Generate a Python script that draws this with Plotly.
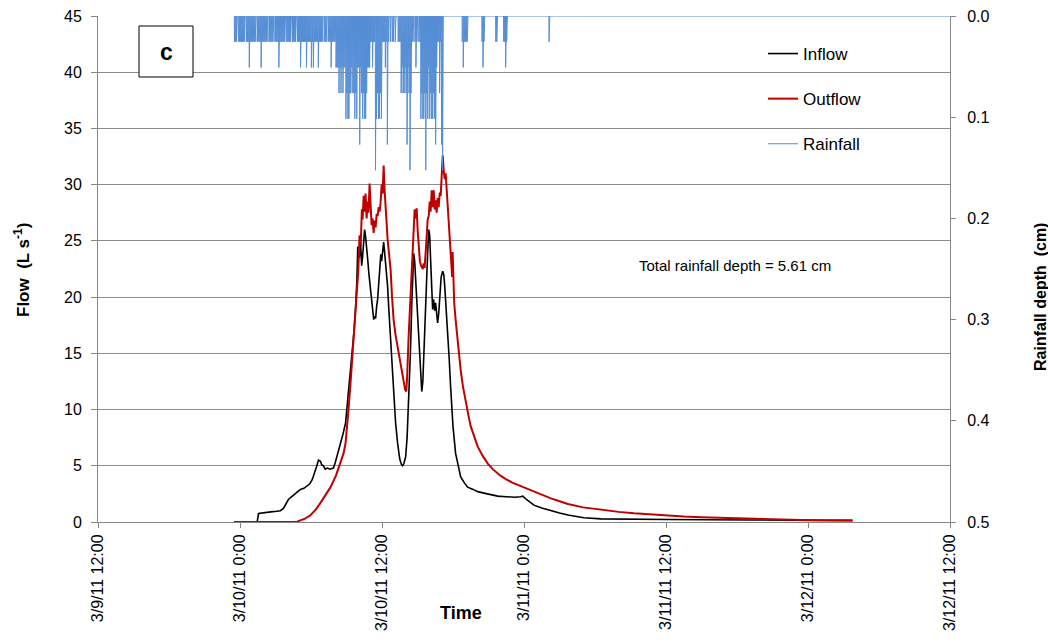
import numpy as np
import pandas as pd
import plotly.graph_objects as go

# ---------------- data ----------------
# hours after 3/10/11 0:00
inflow_hours = [-0.5, 1.45, 1.57, 2.1, 2.6, 3.1, 3.41, 3.67, 3.9, 4.09, 4.3, 4.51, 4.8, 5.1, 5.4, 5.7, 5.9,
                6.12, 6.3, 6.46, 6.63, 6.8, 6.9, 7.05, 7.2, 7.39, 7.6, 7.9, 8.05, 8.24, 8.49, 8.7, 8.92,
                9.09, 9.3, 9.51, 9.64, 9.76, 9.88, 9.95, 10.0, 10.08, 10.19, 10.28, 10.36, 10.45, 10.53,
                10.61, 10.7, 10.78, 10.9, 11.03, 11.2, 11.3, 11.4, 11.46, 11.55, 11.63, 11.71, 11.8, 11.9,
                11.97, 12.05, 12.14, 12.22, 12.3, 12.47, 12.6, 12.73, 12.85, 12.98, 13.15, 13.32, 13.5,
                13.65, 13.74, 13.85, 14.0, 14.12, 14.25, 14.4, 14.52, 14.6, 14.68, 14.76, 14.88, 15.01,
                15.15, 15.27, 15.36, 15.45, 15.55, 15.66, 15.78, 15.86, 15.95, 16.03, 16.12, 16.2, 16.28,
                16.36, 16.45, 16.53, 16.62, 16.7, 16.79, 16.9, 17.0, 17.13, 17.22, 17.3, 17.4, 17.55,
                17.68, 17.8, 18.0, 18.22, 18.45, 18.65, 18.95, 19.24, 19.7, 20.09, 20.9, 21.78, 22.5,
                23.2, 23.7, 23.9, 24.2, 24.84, 25.5, 26.27, 27.0, 27.71, 28.4, 29.06, 30.5, 33.0, 36.17,
                43.2, 51.76]
inflow_values = [0, 0, 0.75, 0.85, 0.9, 0.95, 1.0, 1.2, 1.6, 2.0, 2.2, 2.4, 2.6, 2.9, 3.0, 3.2, 3.4,
                 3.8, 4.3, 4.9, 5.5, 5.4, 5.1, 5.0, 4.7, 4.8, 4.7, 4.8, 5.3, 6.0, 7.0, 7.8, 8.8,
                 10.6, 12.8, 15.0, 17.0, 18.9, 21.5, 24.5, 24.2, 23.5, 24.8, 22.8, 23.6, 25.0, 26.0,
                 25.4, 24.0, 23.5, 22.0, 20.5, 18.8, 18.0, 18.3, 18.1, 19.2, 19.8, 21.0, 22.5, 23.8,
                 23.2, 24.2, 24.9, 24.0, 23.0, 21.0, 18.5, 16.0, 13.5, 11.5, 8.8, 7.0, 5.6,
                 5.1, 5.0, 5.2, 5.8, 7.5, 10.6, 15.0, 19.5, 22.0, 23.9, 23.2, 21.0, 18.5,
                 15.0, 13.0, 11.6, 12.5, 15.5, 19.5, 23.0, 24.0, 26.0, 25.5, 23.0, 20.5, 18.9,
                 19.8, 18.8, 19.5, 18.2, 17.7, 18.5, 20.5, 21.8, 22.3, 22.0, 21.0, 19.5, 17.0,
                 14.5, 12.0, 8.5, 6.1, 4.8, 4.0, 3.5, 3.1, 2.9, 2.7, 2.5, 2.3, 2.25,
                 2.2, 2.25, 2.3, 2.0, 1.5, 1.25, 1.0, 0.8, 0.62, 0.48, 0.38, 0.28, 0.24, 0.22,
                 0.18, 0.12]

outflow_hours = [-0.5, 4.8, 5.1, 5.5, 5.95, 6.4, 6.8, 7.2, 7.65, 8.1, 8.49, 8.75, 8.92, 9.05, 9.17,
                 9.35, 9.51, 9.65, 9.76, 9.88, 10.0, 10.1, 10.2, 10.3, 10.36, 10.45, 10.52, 10.61,
                 10.7, 10.78, 10.86, 10.95, 11.03, 11.12, 11.2, 11.29, 11.38, 11.46, 11.55, 11.63,
                 11.72, 11.8, 11.88, 11.97, 12.05, 12.14, 12.22, 12.3, 12.38, 12.47, 12.6, 12.73,
                 12.85, 12.98, 13.15, 13.32, 13.45, 13.57, 13.7, 13.83, 13.95, 14.05, 14.12, 14.25,
                 14.4, 14.59, 14.68, 14.76, 14.85, 14.93, 15.01, 15.1, 15.2, 15.3, 15.45, 15.52,
                 15.6, 15.69, 15.78, 15.86, 15.95, 16.03, 16.11, 16.2, 16.28, 16.37, 16.45, 16.53,
                 16.62, 16.7, 16.79, 16.88, 16.96, 17.05, 17.13, 17.22, 17.3, 17.38, 17.47, 17.55,
                 17.63, 17.72, 17.8, 17.88, 17.93, 17.97, 18.02, 18.1, 18.22, 18.4, 18.65, 18.85,
                 19.07, 19.3, 19.5, 19.8, 20.09, 20.5, 20.94, 21.35, 21.78, 22.04, 22.5, 23.0,
                 23.48, 24.2, 24.84, 25.5, 26.27, 27.0, 27.71, 29.0, 30.5, 32.0, 33.3, 34.7,
                 36.17, 37.5, 38.98, 40.4, 41.77, 43.2, 44.65, 46.0, 47.44, 49.5, 51.76]
outflow_values = [0, 0, 0.15, 0.3, 0.6, 1.1, 1.7, 2.4, 3.1, 4.1, 5.2, 6.1, 7.0, 8.4, 10.0,
                  12.5, 15.0, 17.2, 19.5, 21.0, 22.4, 25.5, 24.6, 27.8, 26.9, 29.0, 27.6, 29.2,
                  27.0, 28.5, 27.5, 30.1, 28.6, 26.4, 27.0, 25.7, 26.8, 26.2, 27.4, 27.2,
                  28.0, 27.6, 28.4, 30.0, 29.2, 31.7, 29.5, 28.0, 26.5, 25.2, 23.8, 22.4,
                  20.0, 18.0, 16.6, 15.6, 14.8, 14.1, 13.2, 12.4, 11.8, 11.6, 12.8, 16.5,
                  20.0, 23.9, 26.5, 27.8, 27.0, 27.9, 26.0, 24.5, 23.2, 22.8, 22.5, 23.0,
                  22.6, 24.0, 25.5, 26.9, 27.2, 28.5, 27.6, 29.5, 28.0, 29.5, 27.8, 28.6,
                  27.5, 28.8, 28.0, 29.3, 29.0, 31.0, 32.6, 31.2, 30.5, 31.0, 29.4, 28.0,
                  27.0, 25.5, 24.0, 22.0, 21.8, 24.0, 21.0, 19.5, 18.0, 16.0, 13.5, 12.0,
                  10.6, 9.5, 8.5, 7.6, 6.7, 5.9, 5.2, 4.7, 4.3, 4.1, 3.8, 3.5,
                  3.3, 3.0, 2.7, 2.4, 2.1, 1.85, 1.6, 1.3, 1.07, 0.9, 0.77, 0.66,
                  0.56, 0.48, 0.42, 0.37, 0.33, 0.28, 0.24, 0.21, 0.18, 0.16, 0.15]

# rain gauge tips per 5-minute interval, starting 3/9/11 23:30 (1 tip = 0.0254 cm)
rain_start = "2011-03-09 23:30"
tip_depth_cm = 0.0254
rain_tips = [
    1, 1, 1, 0, 1, 1, 1, 1, 1, 1, 1, 0, 1, 1, 1, 2, 1, 1, 1, 1,
    1, 1, 0, 1, 1, 1, 1, 2, 1, 1, 1, 1, 1, 1, 0, 1, 1, 1, 1, 1,
    0, 1, 1, 1, 1, 2, 1, 1, 1, 1, 1, 1, 0, 1, 1, 1, 1, 1, 0, 1,
    1, 1, 1, 0, 1, 1, 1, 2, 1, 1, 1, 1, 1, 2, 1, 1, 1, 1, 2, 1,
    2, 1, 1, 1, 1, 2, 1, 1, 1, 1, 0, 1, 1, 1, 0, 1, 1, 1, 2, 1,
    1, 1, 1, 2, 2, 2, 3, 2, 3, 2, 3, 2, 2, 4, 3, 4, 4, 3, 3, 2,
    3, 3, 4, 3, 4, 2, 2, 5, 2, 3, 4, 3, 4, 4, 3, 2, 2, 2, 1, 1,
    2, 1, 1, 6, 4, 3, 4, 4, 3, 4, 1, 1, 1, 2, 1, 5, 1, 0, 1, 0,
    1, 1, 0, 1, 0, 0, 1, 1, 1, 3, 2, 3, 3, 2, 3, 5, 2, 3, 6, 3,
    1, 1, 0, 1, 2, 1, 0, 1, 1, 4, 3, 4, 4, 3, 6, 3, 4, 2, 4, 3,
    4, 4, 3, 4, 5, 2, 1, 1, 3, 1, 5, 6, 0, 0, 0, 0, 0, 0, 0, 0,
    0, 0, 0, 0, 0, 0, 0, 0, 0, 0, 0, 1, 2, 1, 1, 1, 1, 0, 0, 0,
    0, 0, 0, 0, 0, 0, 0, 0, 0, 0, 0, 1, 2, 1, 0, 0, 0, 0, 0, 0,
    0, 0, 0, 0, 0, 1, 1, 0, 0, 0, 0, 0, 0, 1, 1, 2, 1, 0, 0, 0,
    0, 0, 0, 0, 0, 0, 0, 0, 0, 0, 0, 0, 0, 0, 0, 0, 0, 0, 0, 0,
    0, 0, 0, 0, 0, 0, 0, 0, 0, 0, 0, 0, 0, 0, 0, 0, 0, 0, 0, 1,
]
rain_end = "2011-03-12 12:00"

x_ticks_start = "2011-03-09 12:00"
x_ticks_end = "2011-03-12 12:00"
total_rain_label = "Total rainfall depth = 5.61 cm"
panel_label = "c"

# ---------------- build series ----------------
base = pd.Timestamp("2011-03-10 00:00")
inflow_t = [base + pd.Timedelta(hours=h) for h in inflow_hours]
outflow_t = [base + pd.Timedelta(hours=h) for h in outflow_hours]

r0 = pd.Timestamp(rain_start)
n_min = int((pd.Timestamp(rain_end) - r0).total_seconds() // 60) + 1
rain_min = np.zeros(n_min)
for k, c in enumerate(rain_tips):
    if c:
        rain_min[5 * k + 2] = c * tip_depth_cm
rain_t = pd.date_range(r0, periods=n_min, freq="min")

FONT = "Liberation Sans, Arial, sans-serif"
AX = "#868686"

# plot-area pixel geometry helpers (for annotations placed in paper coords)
L, R, T, B = 98, 950, 16, 522
def px(x):
    return (x - L) / (R - L)
def py(y):
    return (B - y) / (B - T)

fig = go.Figure()
fig.add_trace(go.Scatter(x=inflow_t, y=inflow_values, mode="lines", name="Inflow",
                         line=dict(color="#000000", width=1.6), legendgroup="a"))
fig.add_trace(go.Scatter(x=outflow_t, y=outflow_values, mode="lines", name="Outflow",
                         line=dict(color="#C00000", width=2), legendgroup="b"))
fig.add_trace(go.Scatter(x=rain_t, y=rain_min, mode="lines", name="Rainfall", yaxis="y2",
                         line=dict(color="#558ED5", width=1), legendgroup="c"))

fig.update_layout(
    width=1048, height=643,
    margin=dict(l=L, r=1048 - R, t=T, b=643 - B, autoexpand=False),
    paper_bgcolor="white", plot_bgcolor="white",
    font=dict(family=FONT, size=15, color="#000000"),
    showlegend=True,
    legend=dict(x=px(763), y=py(36), xanchor="left", yanchor="top", bgcolor="rgba(0,0,0,0)",
                font=dict(size=17), tracegroupgap=20, itemwidth=30),
    xaxis=dict(type="date", range=[x_ticks_start, x_ticks_end], tick0=x_ticks_start,
               dtick=12 * 3600 * 1000, tickformat="%-m/%-d/%y %-H:%M", tickangle=-90,
               ticks="outside", ticklen=5, tickcolor=AX, showline=True, linecolor=AX,
               showgrid=False, zeroline=False, tickfont=dict(size=16)),
    yaxis=dict(range=[0, 45], dtick=5, showgrid=True, gridcolor="#8c8c8c", gridwidth=1,
               showline=True, linecolor=AX, ticks="outside", ticklen=6, tickcolor=AX,
               zeroline=False, tickfont=dict(size=16), ticklabelstandoff=6),
    yaxis2=dict(range=[0.5, 0.0], dtick=0.1, tickformat=".1f", overlaying="y", side="right",
                showgrid=False, showline=True, linecolor=AX, ticks="outside", ticklen=5,
                tickcolor=AX, zeroline=False, tickfont=dict(size=16), ticklabelstandoff=8),
    shapes=[dict(type="rect", xref="paper", yref="paper", x0=px(139), x1=px(193),
                 y0=py(77), y1=py(26), line=dict(color="#000000", width=1), fillcolor="white",
                 layer="above")],
    annotations=[
        dict(text="<b>" + panel_label + "</b>", xref="paper", yref="paper", x=px(166), y=py(52),
             xanchor="center", yanchor="middle", showarrow=False, font=dict(size=23)),
        dict(text=total_rain_label, xref="paper", yref="paper", x=px(637),
             y=py(265), xanchor="left", yanchor="middle", showarrow=False,
             font=dict(size=15)),
        dict(text="<b>Time</b>", xref="paper", yref="paper", x=px(461),
             y=py(613), xanchor="center", yanchor="middle", showarrow=False,
             font=dict(size=18)),
        dict(text="<b>Flow  (L s<sup>-1</sup>)</b>", xref="paper", yref="paper",
             x=px(22), y=py(270), xanchor="center", yanchor="middle",
             textangle=-90, showarrow=False, font=dict(size=17)),
        dict(text="<b>Rainfall depth  (cm)</b>", xref="paper", yref="paper",
             x=px(1040), y=py(297), xanchor="center", yanchor="middle",
             textangle=-90, showarrow=False, font=dict(size=16)),
    ],
)

fig.write_html("out.html")
